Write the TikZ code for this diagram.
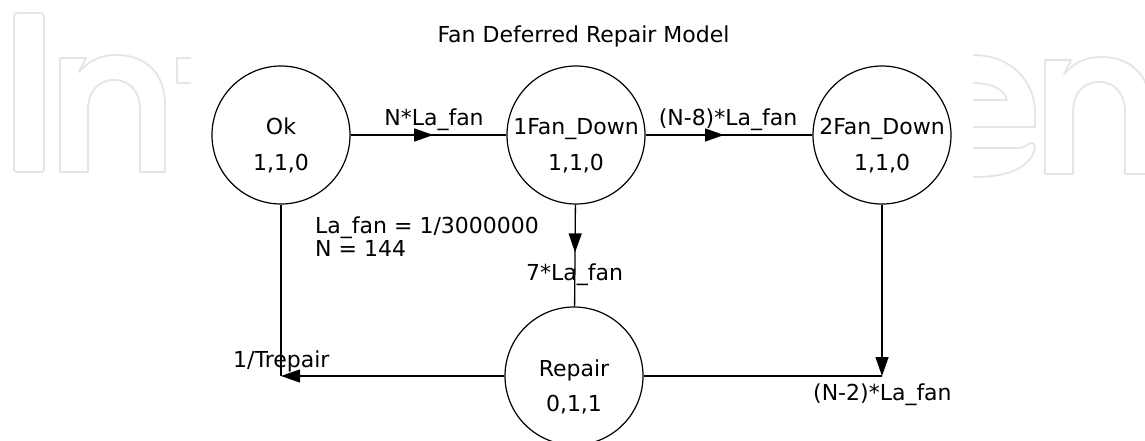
\documentclass[tikz,border=0pt]{standalone}
\usepackage{fontspec}
\setmainfont{DejaVu Sans}
\usetikzlibrary{arrows.meta,decorations.markings,calc}
\begin{document}
\begin{tikzpicture}[x=1pt,y=-1pt,
  state/.style={draw=black,line width=1.2pt,circle,minimum size=138pt,inner sep=0pt},
  stext/.style={anchor=base,inner sep=0pt,font=\fontsize{22}{24}\selectfont},
  lbl/.style={anchor=base,inner sep=0pt,font=\fontsize{22}{24}\selectfont},
  lblw/.style={anchor=base west,inner sep=0pt,font=\fontsize{22}{24}\selectfont},
  conn/.style={draw=black,line width=1.3pt},
  tip/.style={-{Triangle[length=19pt,width=13pt]}},
  midarrow/.style={postaction={decorate},decoration={markings,mark=at position #1 with {\arrow{Triangle[length=19pt,width=13pt]}}}},
  wm/.style={draw=black!10,line width=1.8pt,line join=round}]
\useasboundingbox (0,0) rectangle (1145,441);
\fill[white] (0,0) rectangle (1145,441);
% watermark
\draw[wm,rounded corners=3pt] (14,13) rectangle (44,172);
\draw[wm] (60,172) -- (60,58) -- (86,58) -- (79,72) .. controls (92,58) and (104,55) .. (116,55) .. controls (145,55) and (165,72) .. (165,105) -- (165,172) -- (140,172) -- (140,110) .. controls (140,92) and (130,80) .. (114,80) .. controls (98,80) and (88,92) .. (88,110) -- (88,172) -- cycle;
\draw[wm] (191,58) -- (177,58) -- (177,83) -- (191,83);
\draw[wm] (973,55) .. controls (1010,55) and (1035,80) .. (1035,113) -- (1035,127) -- (973,127);
\draw[wm] (973,83) .. controls (992,83) and (1005,90) .. (1007,100) -- (973,100);
\draw[wm] (973,148) -- (1020,148) .. controls (1026,148) and (1028,142) .. (1033,143) .. controls (1036,146) and (1035,150) .. (1032,156) .. controls (1022,172) and (1000,177) .. (973,177);
\begin{scope}[shift={(985,2)}]
\draw[wm] (60,172) -- (60,58) -- (86,58) -- (79,72) .. controls (92,58) and (104,55) .. (116,55) .. controls (145,55) and (165,72) .. (165,105) -- (165,172) -- (140,172) -- (140,110) .. controls (140,92) and (130,80) .. (114,80) .. controls (98,80) and (88,92) .. (88,110) -- (88,172) -- cycle;
\end{scope}
% title
\node[lbl] (title) at (583.5,43) {Fan Deferred Repair Model};
% states
\node[state] (ok) at (281,135) {};
\node[state] (f1) at (576,135) {};
\node[state] (f2) at (882,135) {};
\node[state] (rep) at (574,376) {};
\node[stext] (okn) at (ok.center) {Ok};
\node[stext] (okv) at ($(ok.center)+(0,35)$) {1,1,0};
\node[stext] (f1n) at (f1.center) {1Fan\_Down};
\node[stext] (f1v) at ($(f1.center)+(0,35)$) {1,1,0};
\node[stext] (f2n) at (f2.center) {2Fan\_Down};
\node[stext] (f2v) at ($(f2.center)+(0,35)$) {1,1,0};
\node[stext] (repn) at (rep.center) {Repair};
\node[stext] (repv) at ($(rep.center)+(0,35)$) {0,1,1};
% corners
\coordinate (rc) at (281,376);
\coordinate (rc2) at (882,376);
% connectors
\draw[conn,midarrow=0.53] (ok) -- (f1);
\draw[conn,midarrow=0.47] (f1) -- (f2);
\draw[conn,midarrow=0.47] (f1) -- (rep);
\draw[conn,tip] (rep) -- (rc);
\draw[conn] (rc) -- (ok);
\draw[conn,tip] (f2) -- (rc2);
\draw[conn] (rep) -- (rc2);
% labels
\node[lbl] (l1) at (434,125) {N*La\_fan};
\node[lbl] (l2) at (728,125) {(N-8)*La\_fan};
\node[lbl] (l3) at (574.5,280) {7*La\_fan};
\node[lblw] (l4) at (233,367) {1/Trepair};
\node[lblw] (l5) at (813,400) {(N-2)*La\_fan};
\node[lblw] (p1) at (315,233) {La\_fan = 1/3000000};
\node[lblw] (p2) at (315,256) {N = 144};
\end{tikzpicture}
\end{document}
